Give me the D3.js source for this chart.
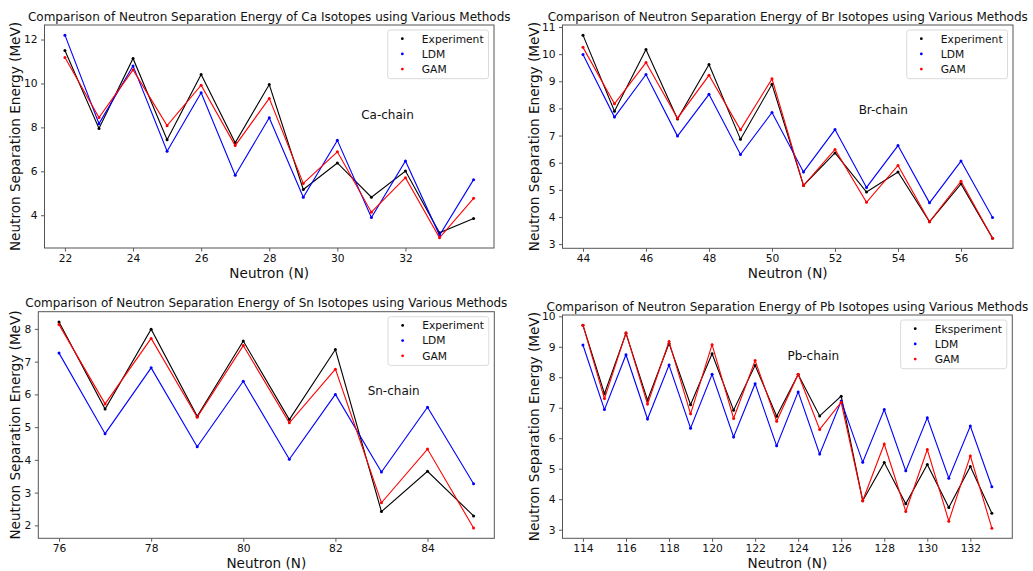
<!DOCTYPE html>
<html>
<head>
<meta charset="utf-8">
<script src="https://cdn.jsdelivr.net/npm/d3@7"></script>
<style>
  body { margin: 0; background: #fff; }
  svg { display: block; font-family: "DejaVu Sans", sans-serif; }
</style>
</head>
<body>
<svg id="chart" width="1033" height="571"></svg>
<script>
// ---- data ----
const caN   = [22, 23, 24, 25, 26, 27, 28, 29, 30, 31, 32, 33, 34];
const caExp = [11.50, 7.95, 11.14, 7.44, 10.41, 7.30, 9.95, 5.17, 6.38, 4.82, 6.01, 3.20, 3.85];
const caLdm = [12.20, 8.17, 10.80, 6.91, 9.58, 5.82, 8.44, 4.82, 7.41, 3.90, 6.47, 3.09, 5.62];
const caGam = [11.18, 8.45, 10.62, 8.08, 9.92, 7.17, 9.32, 5.45, 6.89, 4.14, 5.71, 2.97, 4.77];
const caXTicks = [22, 24, 26, 28, 30, 32];
const caYTicks = [4, 6, 8, 10, 12];

const brN   = [44, 45, 46, 47, 48, 49, 50, 51, 52, 53, 54, 55, 56, 57];
const brExp = [10.70, 7.90, 10.17, 7.61, 9.62, 6.86, 8.89, 5.16, 6.36, 4.92, 5.66, 3.82, 5.22, 3.22];
const brLdm = [9.99, 7.68, 9.25, 6.98, 8.52, 6.30, 7.85, 5.66, 7.22, 5.09, 6.63, 4.52, 6.06, 3.98];
const brGam = [10.25, 8.17, 9.69, 7.64, 9.22, 7.21, 9.09, 5.16, 6.49, 4.54, 5.90, 3.82, 5.32, 3.22];
const brXTicks = [44, 46, 48, 50, 52, 54, 56];
const brYTicks = [3, 4, 5, 6, 7, 8, 9, 10, 11];

const snN   = [76, 77, 78, 79, 80, 81, 82, 83, 84, 85];
const snExp = [8.21, 5.55, 7.99, 5.33, 7.63, 5.23, 7.37, 2.42, 3.65, 2.29];
const snLdm = [7.26, 4.80, 6.81, 4.40, 6.40, 4.02, 6.00, 3.63, 5.61, 3.27];
const snGam = [8.13, 5.71, 7.71, 5.30, 7.49, 5.13, 6.77, 2.69, 4.33, 1.92];
const snXTicks = [76, 78, 80, 82, 84];
const snYTicks = [2, 3, 4, 5, 6, 7, 8];

const pbN   = [114, 115, 116, 117, 118, 119, 120, 121, 122, 123, 124, 125, 126, 127, 128, 129, 130, 131, 132, 133];
const pbExp = [9.71, 7.46, 9.44, 7.25, 9.11, 7.10, 8.77, 6.92, 8.39, 6.72, 8.09, 6.73, 7.38, 3.95, 5.20, 3.85, 5.14, 3.73, 5.07, 3.54];
const pbLdm = [9.06, 6.94, 8.74, 6.63, 8.40, 6.33, 8.10, 6.04, 7.79, 5.75, 7.52, 5.48, 7.22, 5.21, 6.94, 4.93, 6.67, 4.69, 6.40, 4.41];
const pbGam = [9.71, 7.30, 9.46, 7.12, 9.17, 6.80, 9.07, 6.65, 8.55, 6.56, 8.10, 6.29, 7.18, 3.95, 5.81, 3.60, 5.63, 3.28, 5.42, 3.05];
const pbXTicks = [114, 116, 118, 120, 122, 124, 126, 128, 130, 132];
const pbYTicks = [3, 4, 5, 6, 7, 8, 9, 10];

const colors = ["black", "blue", "red"];
const legendA = ["Experiment", "LDM", "GAM"];
const legendB = ["Eksperiment", "LDM", "GAM"];

const titleOf = el => `Comparison of Neutron Separation Energy of ${el} Isotopes using Various Methods`;

const panels = [
  { el: "Ca", n: caN, ys: [caExp, caLdm, caGam], xt: caXTicks, yt: caYTicks, labels: legendA,
    box: [44.5, 494, 25, 248], ylabX: 15, note: "Ca-chain", noteAt: [30.7, 8.4] },
  { el: "Br", n: brN, ys: [brExp, brLdm, brGam], xt: brXTicks, yt: brYTicks, labels: legendA,
    box: [562.5, 1013, 25, 248.3], ylabX: 534, note: "Br-chain", noteAt: [52.75, 7.8] },
  { el: "Sn", n: snN, ys: [snExp, snLdm, snGam], xt: snXTicks, yt: snYTicks, labels: legendA,
    box: [38.3, 494.3, 311.7, 538.3], ylabX: 15.5, note: "Sn-chain", noteAt: [82.7, 5.98] },
  { el: "Pb", n: pbN, ys: [pbExp, pbLdm, pbGam], xt: pbXTicks, yt: pbYTicks, labels: legendB,
    box: [562.5, 1012.3, 315, 538.3], ylabX: 534, note: "Pb-chain", noteAt: [123.5, 8.58] }
];

const svg = d3.select("#chart");

// matplotlib style 5% margins
function padded(ext) {
  let d = (ext[1] - ext[0]) * 0.05;
  return [ext[0] - d, ext[1] + d];
}

function drawPanel(p) {
  let [l, r, t, b] = p.box;
  let x = d3.scaleLinear(padded(d3.extent(p.n)), [l, r]);
  let y = d3.scaleLinear(padded(d3.extent(p.ys.flat())), [b, t]);

  let g = svg.append("g");

  let xa = g.append("g")
            .attr("transform", `translate(0,${b})`)
            .call(d3.axisBottom(x).tickValues(p.xt).tickSize(3.5).tickPadding(3).tickFormat(d3.format("d")));
  let ya = g.append("g")
            .attr("transform", `translate(${l},0)`)
            .call(d3.axisLeft(y).tickValues(p.yt).tickSize(3.5).tickPadding(3.5).tickFormat(d3.format("d")));
  [xa, ya].forEach(a => {
    a.select(".domain").remove();
    a.selectAll("line").attr("stroke", "#333").attr("stroke-width", 0.8);
    a.selectAll("text").attr("font-size", 10.7).attr("fill", "#111")
     .attr("font-family", "DejaVu Sans");
  });

  // lines + dot markers
  p.ys.forEach((vals, k) => {
    let pts = p.n.map((nv, i) => [nv, vals[i]]);
    g.append("path")
     .datum(pts)
     .attr("fill", "none")
     .attr("stroke", colors[k])
     .attr("stroke-width", 1.1)
     .attr("d", d3.line(d => x(d[0]), d => y(d[1])));
    g.append("g").selectAll("circle")
     .data(pts).join("circle")
     .attr("cx", d => x(d[0]))
     .attr("cy", d => y(d[1]))
     .attr("r", 1.5)
     .attr("fill", colors[k]);
  });

  // frame
  g.append("rect")
   .attr("x", l).attr("y", t)
   .attr("width", r - l).attr("height", b - t)
   .attr("fill", "none")
   .attr("stroke", "#555")
   .attr("stroke-width", 1);

  // title
  g.append("text")
   .attr("x", (l + r) / 2).attr("y", t - 4.5)
   .attr("text-anchor", "middle")
   .attr("font-size", 12)
   .attr("fill", "#111")
   .text(titleOf(p.el));

  // axis labels
  g.append("text")
   .attr("x", (l + r) / 2).attr("y", b + 29.5)
   .attr("text-anchor", "middle")
   .attr("font-size", 13.6)
   .attr("fill", "#111")
   .text("Neutron (N)");
  g.append("text")
   .attr("transform", `translate(${p.ylabX},${(t + b) / 2}) rotate(-90)`)
   .attr("text-anchor", "middle")
   .attr("dy", "0.36em")
   .attr("font-size", 13.6)
   .attr("fill", "#111")
   .text("Neutron Separation Energy (MeV)");

  // chain note
  g.append("text")
   .attr("x", x(p.noteAt[0])).attr("y", y(p.noteAt[1]))
   .attr("font-size", 12)
   .attr("fill", "#111")
   .text(p.note);

  // legend
  let lg = g.append("g");
  let frame = lg.append("rect");
  let widest = 0;
  p.labels.forEach((lab, k) => {
    let ty = t + 13.7 + k * 15.2;
    lg.append("circle").attr("cx", 0).attr("cy", ty).attr("r", 1.4).attr("fill", colors[k]);
    let tx = lg.append("text")
               .attr("x", 19.5).attr("y", ty).attr("dy", "0.36em")
               .attr("font-size", 10.7).attr("fill", "#111")
               .text(lab);
    widest = Math.max(widest, tx.node().getComputedTextLength());
  });
  let bw = 34 + widest + 5;
  let bx = r - 5.5 - bw;
  lg.selectAll("circle, text").attr("transform", `translate(${bx + 14.6},0)`);
  frame.attr("x", bx).attr("y", t + 5)
       .attr("width", bw).attr("height", 48.7)
       .attr("rx", 2.5)
       .attr("fill", "white").attr("fill-opacity", 0.8)
       .attr("stroke", "#d6d6d6").attr("stroke-width", 0.9);
}

panels.forEach(drawPanel);
</script>
</body>
</html>
